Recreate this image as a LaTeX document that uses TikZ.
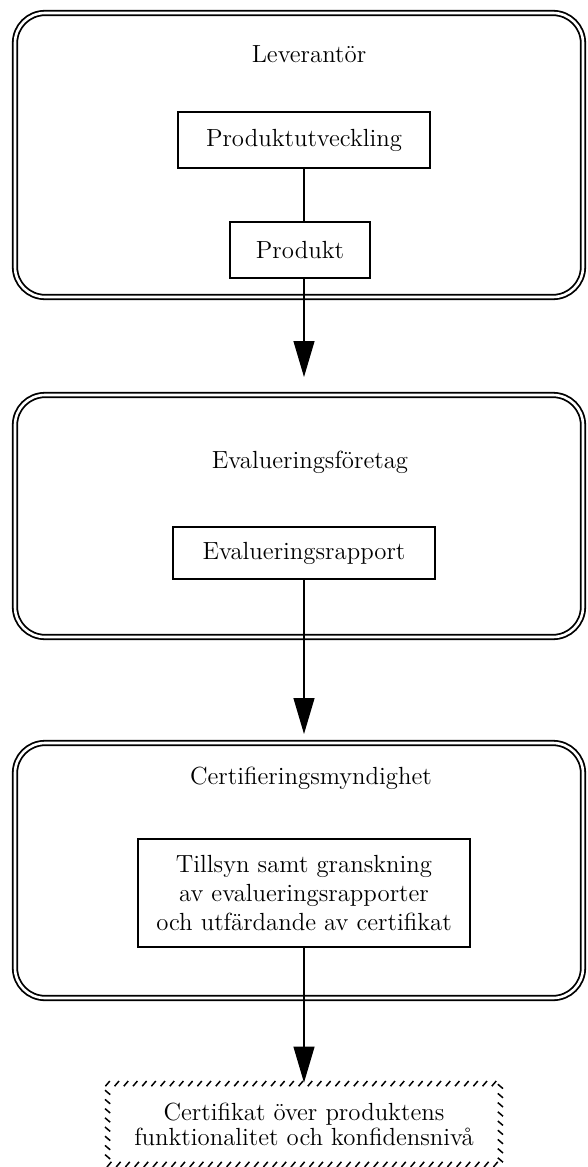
\documentclass[tikz,border=0pt]{standalone}
\usepackage{fontspec}
\usetikzlibrary{arrows.meta,decorations.markings}
\begin{document}
\begin{tikzpicture}[x=0.5pt,y=-0.5pt,
  font=\fontsize{12.4}{14.5}\selectfont,
  frame/.style={draw, line width=0.9pt, double, double distance=1.3pt, rounded corners=15pt},
  title/.style={inner sep=0pt},
  inbox/.style={draw, line width=0.9pt, align=center, inner sep=0pt},
  link/.style={line width=0.6pt},
  flow/.style={line width=0.6pt, -{Triangle[width=10.5pt,length=18pt]}, shorten >=0.5pt},
  tickborder/.style={decoration={markings,
      mark=between positions 0 and 1 step 4.6pt with {\draw[line width=0.75pt] (-1.1pt,-1.3pt) -- (1.1pt,1.3pt);}},
      postaction={decorate}}
]
\useasboundingbox (0,0) rectangle (588,1167);

% Leverantör
\draw[frame] (15,13) rectangle (583,297);
\node[title] (lev) at (309,54) {Leverantör};
\node[inbox, minimum width=126pt, minimum height=28pt] (utv) at (304,140) {Produktutveckling};
\node[inbox, minimum width=70pt, minimum height=28pt] (prod) at (300,250) {Produkt};
\coordinate (tip1) at (304,378);

% Evalueringsföretag
\draw[frame] (15,395) rectangle (583,637);
\node[title] (evf) at (310,462) {Evalueringsföretag};
\node[inbox, minimum width=131pt, minimum height=26pt] (rapp) at (304,553) {Evalueringsrapport};
\coordinate (tip2) at (304,735);

% Certifieringsmyndighet
\draw[frame] (15,743) rectangle (583,998);
\node[title] (cert) at (311,778) {Certifieringsmyndighet};
\node[inbox, minimum width=166pt, minimum height=54pt] (tills) at (304,893)
  {Tillsyn samt granskning\\av evalueringsrapporter\\och utfärdande av certifikat};

% Certifikat
\node[align=center, minimum width=196pt, minimum height=40pt, inner sep=0pt,
      font=\fontsize{12.4}{12.5}\selectfont] (certf) at (304,1124)
  {Certifikat över produktens\\funktionalitet och konfidensnivå};
\path[tickborder] (certf.north west) -- (certf.north east) -- (certf.south east)
  -- (certf.south west) -- cycle;

% connectors
\draw[link] (utv.south) -- (utv.south |- prod.north);
\draw[flow] (prod.south -| utv.south) -- (tip1);
\draw[flow] (rapp.south) -- (tip2);
\draw[flow] (tills.south) -- (certf.north);
\end{tikzpicture}
\end{document}
